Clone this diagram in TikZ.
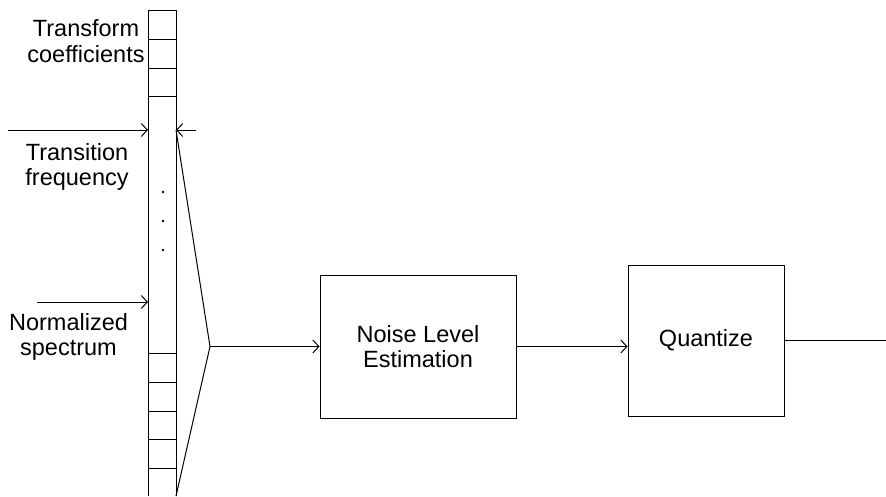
\documentclass[tikz,border=0pt]{standalone}
\usepackage{fontspec}
\setmainfont{Liberation Sans}
\usetikzlibrary{arrows.meta}
\begin{document}
\begin{tikzpicture}[x=1pt,y=-1pt,
  wire/.style={line width=1pt,draw=black},
  flow/.style={wire,-{Straight Barb[length=6pt,width=13pt,line width=1pt]}},
  block/.style={wire,rectangle,inner sep=0pt,align=center,
    font=\fontsize{23.5}{25.5}\selectfont},
  label/.style={inner sep=0pt,font=\fontsize{23.5}{25.5}\selectfont},
  cell/.style={wire}]
\useasboundingbox (0,0) rectangle (886,496);

% coefficient column, open at the bottom
\coordinate (colTL) at (148,10);
\coordinate (colTR) at (176,10);
\coordinate (colBL) at (148,496);
\coordinate (colBR) at (176,496);
\draw[wire] (colBL) -- (colTL) -- (colTR) -- (colBR);
\foreach \y in {39,68,96,353,382,411,439,468}
  \draw[cell] (148,\y) -- (176,\y);
\foreach \y in {192,221,250}
  \fill (163,\y) circle (1.3);

% input markers
\coordinate (inA) at (8,130);
\coordinate (inAend) at (148,130);
\coordinate (inB) at (196,130);
\coordinate (inBend) at (176,130);
\coordinate (inC) at (37,302);
\coordinate (inCend) at (148,302);
\draw[flow] (inA) -- (inAend);
\draw[flow] (inB) -- (inBend);
\draw[flow] (inC) -- (inCend);

% labels
\node[label,align=center] (lblTC) at (86,41) {Transform\\coefficients};
\node[label,align=center] (lblTF) at (77,167) {Transition\\frequency};
\node[label,align=center] (lblNS) at (68.5,337) {Normalized\\spectrum};

% selection funnel
\coordinate (apex) at (210,346.5);
\draw[wire] (inBend) -- (apex) -- (colBR);

% processing blocks
\node[block,minimum width=196pt,minimum height=143pt] (nle) at (418,346.5) {Noise Level\\Estimation};
\node[block,minimum width=156pt,minimum height=151pt] (quant) at (706,340.5) {Quantize};
\coordinate (out) at (886,340.5);

\draw[flow] (apex) -- (nle.west);
\draw[flow] (nle.east) -- (nle.east -| quant.west);
\draw[wire] (quant.east) -- (out);
\end{tikzpicture}
\end{document}
